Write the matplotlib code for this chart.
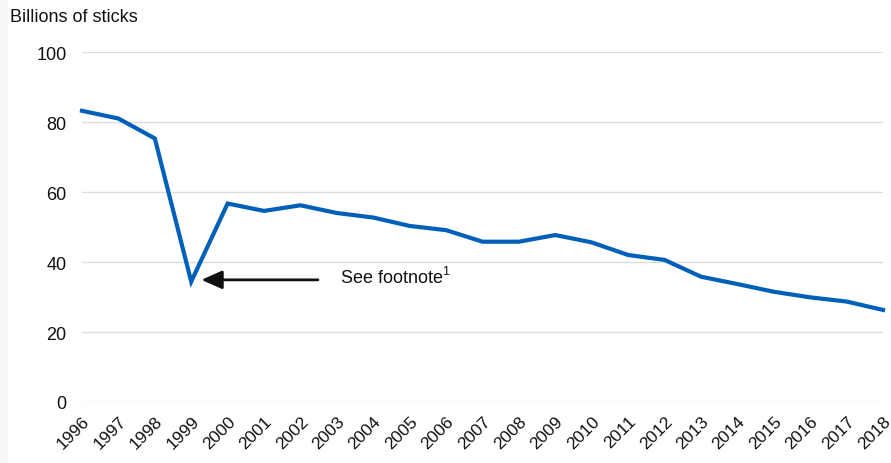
import matplotlib
matplotlib.use("Agg")
import matplotlib.pyplot as plt
from matplotlib.patches import Rectangle

years = list(range(1996, 2019))
values = [83.2, 81.0, 75.3, 34.4, 56.7, 54.6, 56.2, 54.0, 52.7, 50.3, 49.1,
          45.8, 45.8, 47.7, 45.6, 42.0, 40.6, 35.8, 33.7, 31.5, 29.9, 28.7, 26.3]
yticks = [0, 20, 40, 60, 80, 100]
ylabel = "Billions of sticks"
note = "See footnote"
note_sup = "1"

plt.rcParams['font.family'] = ['Liberation Sans', 'DejaVu Sans']

fig = plt.figure(figsize=(8.91, 4.64), dpi=100)
fig.patches.append(Rectangle((0, 0), 8 / 891, 1, transform=fig.transFigure,
                             facecolor='#f6f6f6', edgecolor='none', zorder=0))
ax = fig.add_axes([82 / 891, 61 / 464, 801 / 891, 350 / 464])

ax.plot(years, values, color='#0060b9', lw=3.0, solid_joinstyle='miter', zorder=3, clip_on=False)

ax.set_xlim(years[0], years[-1])
ax.set_ylim(0, 100)
ax.set_yticks(yticks)
ax.set_xticks(years)
ax.set_xticklabels([str(y) for y in years], rotation=45, ha='right', va='top',
                   rotation_mode='anchor', fontsize=12.5, color='#111111')
ax.tick_params(axis='x', length=0, pad=8)
ax.tick_params(axis='y', length=0, pad=11, labelsize=13, labelcolor='#111111')
ax.grid(axis='y', color='#dcdcdc', lw=1.0)
ax.set_axisbelow(True)
for s in ax.spines.values():
    s.set_visible(False)

fig.text(10 / 891, 1 - 18 / 464, ylabel, fontsize=13, va='center', ha='left', color='#111111')

ax.annotate('', xy=(1999.28, 34.9), xytext=(2002.48, 34.9),
            arrowprops=dict(arrowstyle='-|>,head_length=0.9,head_width=0.4', color='#111111',
                            lw=2.0, shrinkA=0, shrinkB=0, mutation_scale=14))
t = ax.text(2003.1, 35.7, note, fontsize=13, va='center', ha='left', color='#111111')
ax.annotate(note_sup, xy=(1, 0.5), xycoords=t, xytext=(0, 0), textcoords='offset points',
            fontsize=9, va='bottom', ha='left', color='#111111')

fig.savefig('out.png', dpi=100)
